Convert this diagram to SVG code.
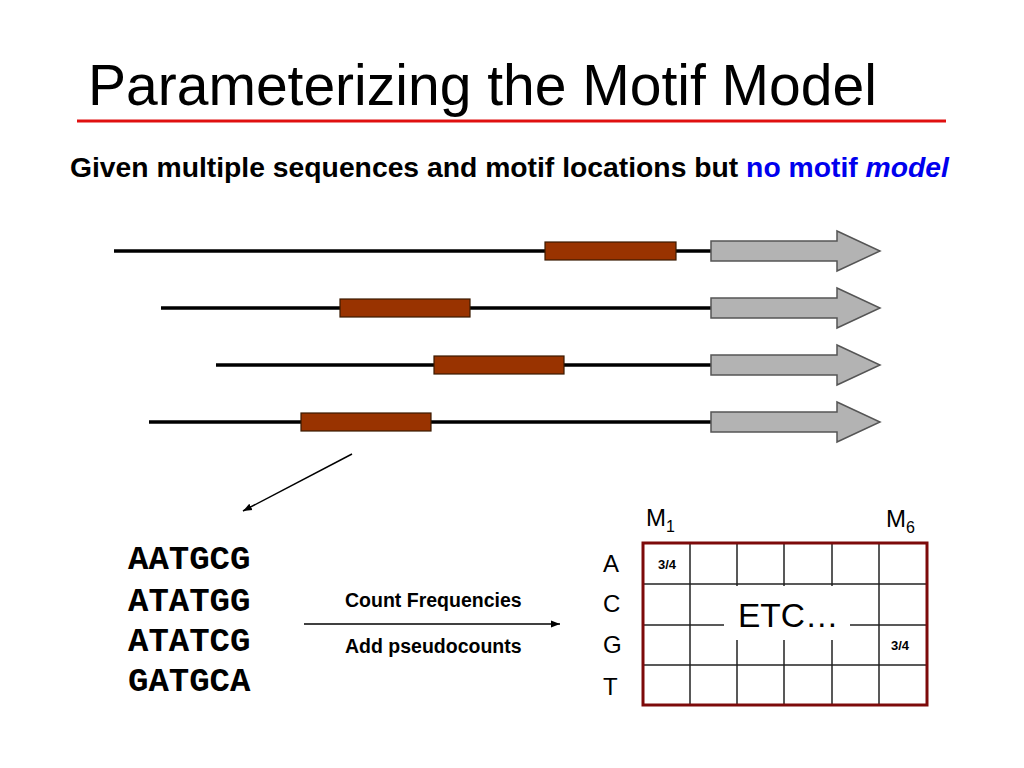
<svg xmlns="http://www.w3.org/2000/svg" width="1024" height="768" viewBox="0 0 1024 768">
<style>
.sans{font-family:"Liberation Sans",Arial,sans-serif}
.seq{stroke:#000;stroke-width:3.5;fill:none}
.motif{fill:#993300;stroke:#3a1a00;stroke-width:1.2}
.garrow{fill:#b3b3b3;stroke:#555;stroke-width:1.5}
.grid{stroke:#222;stroke-width:1.5;fill:none}
.dna{font-family:"Liberation Mono","Courier New",monospace;font-weight:bold;font-size:34px;fill:#000}
.lbl{font-family:"Liberation Sans",Arial,sans-serif;font-size:24px;fill:#000}
.small{font-family:"Liberation Sans",Arial,sans-serif;font-size:13px;font-weight:bold;fill:#000}
.step{font-family:"Liberation Sans",Arial,sans-serif;font-size:19.5px;font-weight:bold;fill:#000}
</style>
<defs>
<marker id="ah" viewBox="0 0 10 10" refX="10" refY="5" markerWidth="9" markerHeight="9" markerUnits="userSpaceOnUse" orient="auto">
<path d="M0,1 L10,5 L0,9 z" fill="#000"/>
</marker>
</defs>
<rect width="1024" height="768" fill="#fff"/>
<g id="title">
<text x="88" y="105" class="sans" font-size="57" fill="#000">Parameterizing the Motif Model</text>
<line x1="77" y1="121" x2="946" y2="121" stroke="#e01010" stroke-width="3"/>
</g>
<g id="subtitle">
<text x="70" y="177" class="sans" font-size="28.3" font-weight="bold" fill="#000">Given multiple sequences and motif locations but <tspan fill="#0000ee">no motif <tspan font-style="italic">model</tspan></tspan></text>
</g>
<g id="seq1">
<line class="seq" x1="114" y1="251" x2="711" y2="251"/>
<rect class="motif" x="545" y="242" width="131" height="18"/>
<path class="garrow" d="M711,241 H837 V231 L880,251 L837,271 V261 H711 Z"/>
</g>
<g id="seq2">
<line class="seq" x1="161" y1="308" x2="711" y2="308"/>
<rect class="motif" x="340" y="299" width="130" height="18"/>
<path class="garrow" d="M711,298 H837 V288 L880,308 L837,328 V318 H711 Z"/>
</g>
<g id="seq3">
<line class="seq" x1="216" y1="365" x2="711" y2="365"/>
<rect class="motif" x="434" y="356" width="130" height="18"/>
<path class="garrow" d="M711,355 H837 V345 L880,365 L837,385 V375 H711 Z"/>
</g>
<g id="seq4">
<line class="seq" x1="149" y1="422" x2="711" y2="422"/>
<rect class="motif" x="301" y="413" width="130" height="18"/>
<path class="garrow" d="M711,412 H837 V402 L880,422 L837,442 V432 H711 Z"/>
</g>
<g id="connectors">
<line x1="352" y1="454" x2="243" y2="511" stroke="#000" stroke-width="1.5" marker-end="url(#ah)"/>
<line x1="304" y1="624" x2="560" y2="624" stroke="#000" stroke-width="1.5" marker-end="url(#ah)"/>
</g>
<g id="sites">
<text class="dna" x="128" y="569">AATGCG</text>
<text class="dna" x="128" y="611">ATATGG</text>
<text class="dna" x="128" y="651">ATATCG</text>
<text class="dna" x="128" y="691">GATGCA</text>
</g>
<g id="step-labels">
<text class="step" x="345" y="607">Count Frequencies</text>
<text class="step" x="345" y="653">Add pseudocounts</text>
</g>
<g id="matrix">
<line class="grid" x1="690" y1="543" x2="690" y2="705"/>
<line class="grid" x1="737" y1="543" x2="737" y2="705"/>
<line class="grid" x1="784" y1="543" x2="784" y2="705"/>
<line class="grid" x1="832" y1="543" x2="832" y2="705"/>
<line class="grid" x1="879" y1="543" x2="879" y2="705"/>
<line class="grid" x1="643" y1="584" x2="927" y2="584"/>
<line class="grid" x1="643" y1="625" x2="927" y2="625"/>
<line class="grid" x1="643" y1="665" x2="927" y2="665"/>
<rect x="724" y="586" width="126" height="54" fill="#fff"/>
<rect x="643" y="543" width="284" height="162" fill="none" stroke="#7d0a0a" stroke-width="3"/>
<text x="738" y="627" class="sans" font-size="33.5" fill="#000">ETC…</text>
<text class="small" x="658" y="569">3/4</text>
<text class="small" x="891" y="650">3/4</text>
</g>
<g id="matrix-labels">
<text class="lbl" x="603" y="572">A</text>
<text class="lbl" x="603" y="612">C</text>
<text class="lbl" x="603" y="653">G</text>
<text class="lbl" x="603" y="695">T</text>
<text class="lbl" x="646" y="526">M<tspan font-size="16" dy="6">1</tspan></text>
<text class="lbl" x="886" y="527">M<tspan font-size="16" dy="6">6</tspan></text>
</g>
</svg>
